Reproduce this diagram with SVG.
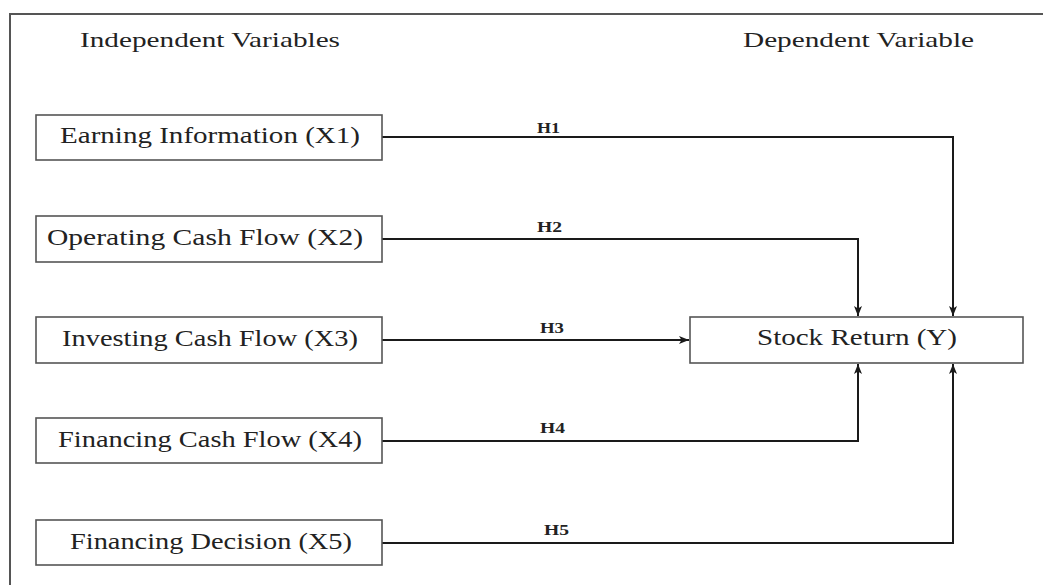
<svg xmlns="http://www.w3.org/2000/svg" width="1043" height="585" viewBox="0 0 1043 585">
  <defs>
    <style>
      .frame { fill: none; stroke: #555; stroke-width: 2; }
      .box { fill: #fff; stroke: #555; stroke-width: 1.6; }
      .lbl { font-family: "Liberation Serif", "Times New Roman", serif; font-size: 23px; fill: #222; }
      .head { font-family: "Liberation Serif", "Times New Roman", serif; font-size: 21px; fill: #222; }
      .hyp { font-family: "Liberation Serif", "Times New Roman", serif; font-size: 15px; fill: #222; font-weight: bold; }
      .conn { fill: none; stroke: #1a1a1a; stroke-width: 2; }
    </style>
    <marker id="arrow" markerUnits="userSpaceOnUse" markerWidth="10" markerHeight="10" viewBox="0 0 10 10" refX="10" refY="5" orient="auto">
      <path d="M0,1 L10,5 L0,9 L2.5,5 Z" fill="#1a1a1a"/>
    </marker>
  </defs>
  <rect width="1043" height="585" fill="#fff"/>
  <path class="frame" d="M10,585 V14 H1043"/>

  <text class="head" x="80" y="47" textLength="260" lengthAdjust="spacingAndGlyphs">Independent Variables</text>
  <text class="head" x="743" y="47" textLength="231" lengthAdjust="spacingAndGlyphs">Dependent Variable</text>

  <g id="connectors">
    <path class="conn" d="M382,137 H953 V316" marker-end="url(#arrow)"/>
    <path class="conn" d="M382,239 H858 V316" marker-end="url(#arrow)"/>
    <path class="conn" d="M382,340 H689" marker-end="url(#arrow)"/>
    <path class="conn" d="M382,441 H858 V364" marker-end="url(#arrow)"/>
    <path class="conn" d="M382,543 H953 V364" marker-end="url(#arrow)"/>
    <text class="hyp" x="537" y="133" textLength="23" lengthAdjust="spacingAndGlyphs">H1</text>
    <text class="hyp" x="537" y="232" textLength="25" lengthAdjust="spacingAndGlyphs">H2</text>
    <text class="hyp" x="540" y="333" textLength="24" lengthAdjust="spacingAndGlyphs">H3</text>
    <text class="hyp" x="540" y="433" textLength="25" lengthAdjust="spacingAndGlyphs">H4</text>
    <text class="hyp" x="544" y="535" textLength="25" lengthAdjust="spacingAndGlyphs">H5</text>
  </g>

  <g id="x1">
    <rect class="box" x="36" y="115" width="346" height="45"/>
    <text class="lbl" x="60" y="143" textLength="300" lengthAdjust="spacingAndGlyphs">Earning Information (X1)</text>
  </g>
  <g id="x2">
    <rect class="box" x="36" y="216" width="346" height="46"/>
    <text class="lbl" x="47" y="245" textLength="316" lengthAdjust="spacingAndGlyphs">Operating Cash Flow (X2)</text>
  </g>
  <g id="x3">
    <rect class="box" x="36" y="317" width="346" height="46"/>
    <text class="lbl" x="62" y="346" textLength="296" lengthAdjust="spacingAndGlyphs">Investing Cash Flow (X3)</text>
  </g>
  <g id="x4">
    <rect class="box" x="36" y="418" width="346" height="45"/>
    <text class="lbl" x="58" y="447" textLength="304" lengthAdjust="spacingAndGlyphs">Financing Cash Flow (X4)</text>
  </g>
  <g id="x5">
    <rect class="box" x="36" y="520" width="346" height="45"/>
    <text class="lbl" x="70" y="549" textLength="282" lengthAdjust="spacingAndGlyphs">Financing Decision (X5)</text>
  </g>
  <g id="y">
    <rect class="box" x="690" y="317" width="333" height="46"/>
    <text class="lbl" x="757" y="345" textLength="200" lengthAdjust="spacingAndGlyphs">Stock Return (Y)</text>
  </g>
</svg>
